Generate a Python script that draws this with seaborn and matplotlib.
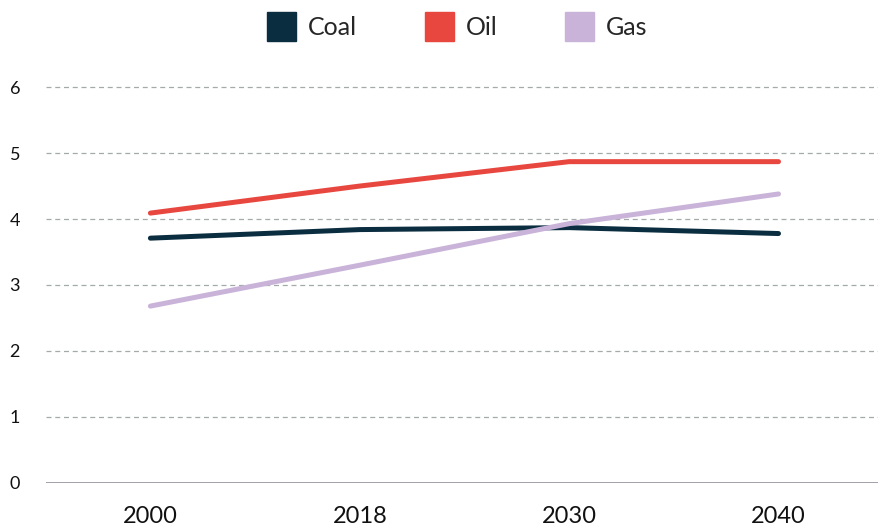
import matplotlib.pyplot as plt
import pandas as pd
import seaborn as sns
from matplotlib.patches import Patch

sns.set_theme(style="white")
plt.rcParams["font.family"] = ["Lato", "DejaVu Sans"]

years = ["2000", "2018", "2030", "2040"]
coal = [3.71, 3.84, 3.87, 3.78]
oil = [4.09, 4.50, 4.87, 4.87]
gas = [2.68, 3.30, 3.93, 4.38]

colors = {"Coal": "#0b2d40", "Oil": "#e8473f", "Gas": "#c9b3d8"}

df = pd.DataFrame({"year": years * 3,
                   "value": coal + oil + gas,
                   "fuel": ["Coal"] * 4 + ["Oil"] * 4 + ["Gas"] * 4})

fig = plt.figure(figsize=(8.79, 5.26), dpi=100)
ax = fig.add_axes([0.052, 0.082, 0.948, 0.79])

sns.lineplot(data=df, x="year", y="value", hue="fuel", palette=colors,
             linewidth=3.6, ax=ax, legend=False, solid_capstyle="round")

ax.set_xlim(-0.5, 3.48)
ax.set_ylim(0, 6.3)
ax.set_yticks(range(0, 7))
for y in range(1, 7):
    ax.axhline(y, color="#a3aaaa", linestyle=(0, (4, 3)), linewidth=0.9, zorder=0)
ax.axhline(0, color="#9a9ba3", linewidth=1.3, zorder=0)

for s in ax.spines.values():
    s.set_visible(False)
ax.set_xlabel("")
ax.set_ylabel("")
ax.tick_params(axis="x", length=0, pad=17, labelsize=17, labelcolor="#111111")
ax.tick_params(axis="y", length=0, pad=26, labelsize=13, labelcolor="#111111")
for lab in ax.get_yticklabels():
    lab.set_horizontalalignment("left")

handles = [Patch(facecolor=c, edgecolor=c, label=k) for k, c in colors.items()]
fig.legend(handles=handles, loc="upper center", bbox_to_anchor=(0.52, 1.02),
           ncol=3, frameon=False, fontsize=18, handlelength=1.16,
           handleheight=1.41, handletextpad=0.48, columnspacing=2.7)

fig.savefig("out.png", dpi=100)
